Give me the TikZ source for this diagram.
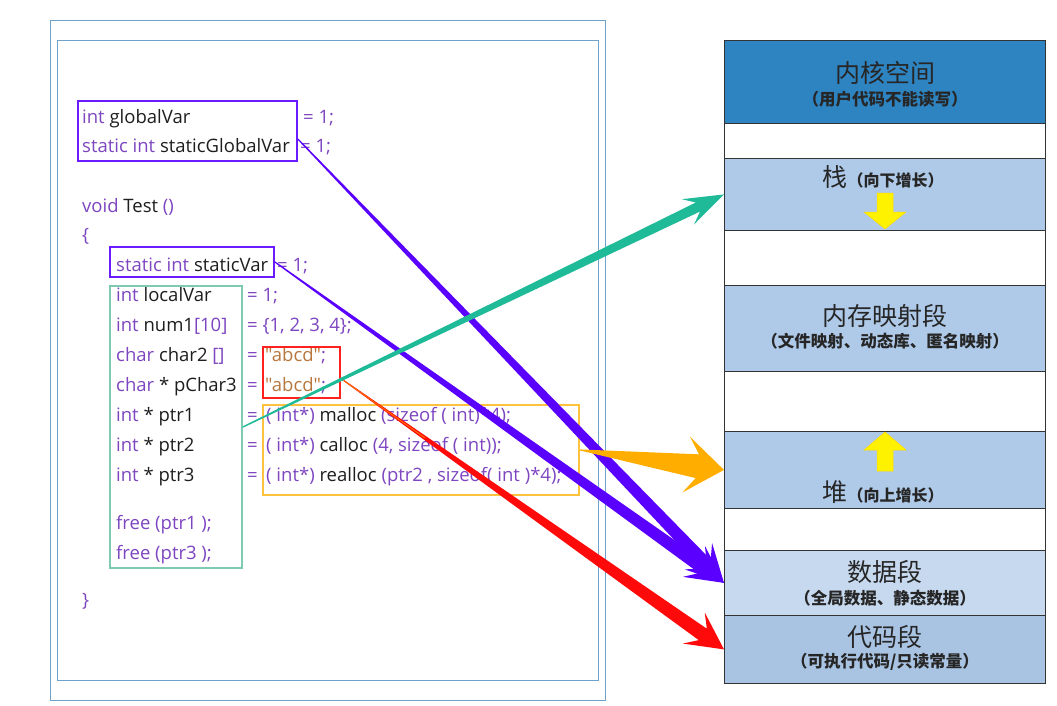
\documentclass[tikz,border=0pt]{standalone}
\usepackage{fontspec}
\newfontfamily\codefont{Open Sans}
\newfontfamily\cjk{Noto Sans CJK SC}
\usetikzlibrary{calc}
\definecolor{kw}{HTML}{7D45C0}
\definecolor{idc}{HTML}{1E1E1E}
\definecolor{strc}{HTML}{B8773E}
\definecolor{framec}{HTML}{6FA3CC}
\definecolor{pboxc}{HTML}{6A1BFF}
\definecolor{tboxc}{HTML}{7FCBB2}
\definecolor{rboxc}{HTML}{FF2020}
\definecolor{oboxc}{HTML}{FFC23E}
\definecolor{kernc}{HTML}{2E83C1}
\definecolor{segc}{HTML}{AFCAE9}
\definecolor{datac}{HTML}{C6D9EF}
\definecolor{codec}{HTML}{A9C3E3}
\definecolor{tealc}{HTML}{1FBA98}
\definecolor{orangec}{HTML}{FFAE00}
\definecolor{purplec}{HTML}{5A00FF}
\definecolor{redc}{HTML}{FF0A0A}
\definecolor{yelc}{HTML}{FFF200}
\newcommand\codef{\codefont\fontsize{18.5}{18.5}\selectfont}
\newcommand\K[1]{\textcolor{kw}{#1}}
\newcommand\I[1]{\textcolor{idc}{#1}}
\newcommand\Sq[1]{\textcolor{strc}{#1}}
% tapered arrow: #1 fill, #2 start, #3 tip, #4 half width at start, #5 half width at notch,
% #6 half head width, #7 head length, #8 notch distance
\newcommand\taparrow[8]{%
  \coordinate (tan) at ($(#3)!#8!(#2)$);
  \coordinate (taw) at ($(#3)!#7!(#2)$);
  \fill[#1] ($(#2)!#4!90:(#3)$) -- ($(tan)!#5!90:(#3)$) -- ($(taw)!#6!90:(#3)$) -- (#3)
     -- ($(taw)!#6!-90:(#3)$) -- ($(tan)!#5!-90:(#3)$) -- ($(#2)!#4!-90:(#3)$) -- cycle;}
\begin{document}
\begin{tikzpicture}[x=1pt,y=-1pt,
  code/.style={anchor=base west,inner sep=0,font=\codef},
  frame/.style={draw=framec,line width=1pt},
  cbox/.style={draw=#1,line width=1.8pt,inner sep=0,anchor=north west},
  seg/.style={draw=black!80,line width=0.8pt,fill=#1,inner sep=0,anchor=north west,minimum width=321},
  ttl/.style={font=\cjk\fontsize{25}{25}\selectfont,text=black!85,inner sep=0},
  sub/.style={font=\cjk\bfseries\fontsize{16.5}{16.5}\selectfont,text=black!85,inner sep=0},
  yel/.style={fill=yelc,draw=yelc!80!orange,line width=0.5pt}]
\useasboundingbox (0,0) rectangle (1057,705);
% frames
\draw[frame] (50,20) rectangle (605,700);
\draw[frame] (57,40) rectangle (598,680);
% code text
\node[code] at (82,123) {\K{int} \I{globalVar}};
\node[code] at (303,123) {\K{= 1;}};
\node[code] at (82,152) {\K{static int} \I{staticGlobalVar}};
\node[code] at (300,152) {\K{= 1;}};
\node[code] at (82,212) {\K{void} \I{Test} \K{()}};
\node[code] at (82,241) {\K{\{}};
\node[code] at (116,271) {\K{static int} \I{staticVar}};
\node[code] at (277,271) {\K{= 1;}};
\node[code] at (116,301) {\K{int} \I{localVar}};
\node[code] at (247,301) {\K{= 1;}};
\node[code] at (116,331) {\K{int} \I{num1}\K{[10]}};
\node[code] at (247,331) {\K{= \{1, 2, 3, 4\};}};
\node[code] at (116,361) {\K{char} \I{char2} \K{[]}};
\node[code] at (247,361) {\K{=}};
\node[code] at (265,361) {\Sq{"abcd"}\K{;}};
\node[code] at (116,391) {\K{char} \I{* pChar3}};
\node[code] at (247,391) {\K{=}};
\node[code] at (265,391) {\Sq{"abcd"}\K{;}};
\node[code] at (116,421) {\K{int} \I{* ptr1}};
\node[code] at (247,421) {\K{=}};
\node[code] at (266,421) {\K{( int*)} \I{malloc} \K{(sizeof ( int)*4);}};
\node[code] at (116,451) {\K{int} \I{* ptr2}};
\node[code] at (247,451) {\K{=}};
\node[code] at (266,451) {\K{( int*)} \I{calloc} \K{(4, sizeof ( int));}};
\node[code] at (116,481) {\K{int} \I{* ptr3}};
\node[code] at (247,481) {\K{=}};
\node[code] at (266,481) {\K{( int*)} \I{realloc} \K{(ptr2 , sizeof( int )*4);}};
\node[code] at (116,529) {\K{free (ptr1 );}};
\node[code] at (116,559) {\K{free (ptr3 );}};
\node[code] at (82,606) {\K{\}}};
% boxes
\node[cbox=pboxc,minimum width=219,minimum height=60] (gbox) at (77,100) {};
\node[cbox=pboxc,minimum width=164,minimum height=30] (sbox) at (109,246) {};
\node[cbox=tboxc,minimum width=132,minimum height=282] (lbox) at (109,285) {};
\node[cbox=rboxc,minimum width=77,minimum height=51] (rbox) at (262,346) {};
\node[cbox=oboxc,minimum width=316,minimum height=90] (obox) at (262,404) {};
% memory layout
\node[seg=kernc,minimum height=83] (kern) at (724,40) {};
\node[seg=white,minimum height=35] (gapa) at (724,123) {};
\node[seg=segc,minimum height=72] (stack) at (724,158) {};
\node[seg=white,minimum height=55] (gapb) at (724,230) {};
\node[seg=segc,minimum height=86] (mmap) at (724,285) {};
\node[seg=white,minimum height=60] (gapc) at (724,371) {};
\node[seg=segc,minimum height=77] (heap) at (724,431) {};
\node[seg=white,minimum height=42] (gapd) at (724,508) {};
\node[seg=datac,minimum height=65] (data) at (724,550) {};
\node[seg=codec,minimum height=68] (codeseg) at (724,615) {};
\node[ttl] (kt) at (885,73) {内核空间};
\node[sub] (ks) at (885,99) {（用户代码不能读写）};
\node[ttl,anchor=base] (st) at (883,186) {栈{\bfseries\fontsize{16}{16}\selectfont（向下增长）}};
\node[ttl] (mt) at (885,316) {内存映射段};
\node[sub] (ms) at (885,341) {（文件映射、动态库、匿名映射）};
\node[ttl,anchor=base] (ht) at (883,501) {堆{\bfseries\fontsize{16}{16}\selectfont（向上增长）}};
\node[ttl] (dt) at (885,572) {数据段};
\node[sub] (ds) at (885,598) {（全局数据、静态数据）};
\node[ttl] (ct) at (885,637) {代码段};
\node[sub] (cs) at (885,662) {（可执行代码/只读常量）};
% yellow growth arrows
\draw[yel] (877,193) -- (893,193) -- (893,212) -- (906,212) -- (885,229) -- (864,212) -- (877,212) -- cycle;
\draw[yel] (877,471) -- (893,471) -- (893,450) -- (906,450) -- (885,432) -- (864,450) -- (877,450) -- cycle;
% connectors
\coordinate (pAs) at ($(gbox.east)+(0,8)$);
\coordinate (rS) at ($(rbox.east)+(0,6)$);
\coordinate (tS) at ($(lbox.north east)+(0,142)$);
\taparrow{purplec}{pAs}{data.west}{0.6pt}{6.5pt}{19pt}{37pt}{26pt}
\taparrow{purplec}{sbox.east}{data.west}{0.6pt}{6.5pt}{19pt}{37pt}{26pt}
\taparrow{redc}{rS}{codeseg.west}{0.5pt}{7pt}{19pt}{37pt}{26pt}
\draw[orange!85!red,line width=1pt] (rS) -- ($(rS)!0.22!(codeseg.west)$);
\taparrow{tealc}{tS}{stack.west}{0.7pt}{5pt}{14pt}{40pt}{29pt}
\taparrow{orangec}{obox.east}{heap.west}{0.5pt}{12pt}{28pt}{38pt}{27pt}
\end{tikzpicture}
\end{document}
